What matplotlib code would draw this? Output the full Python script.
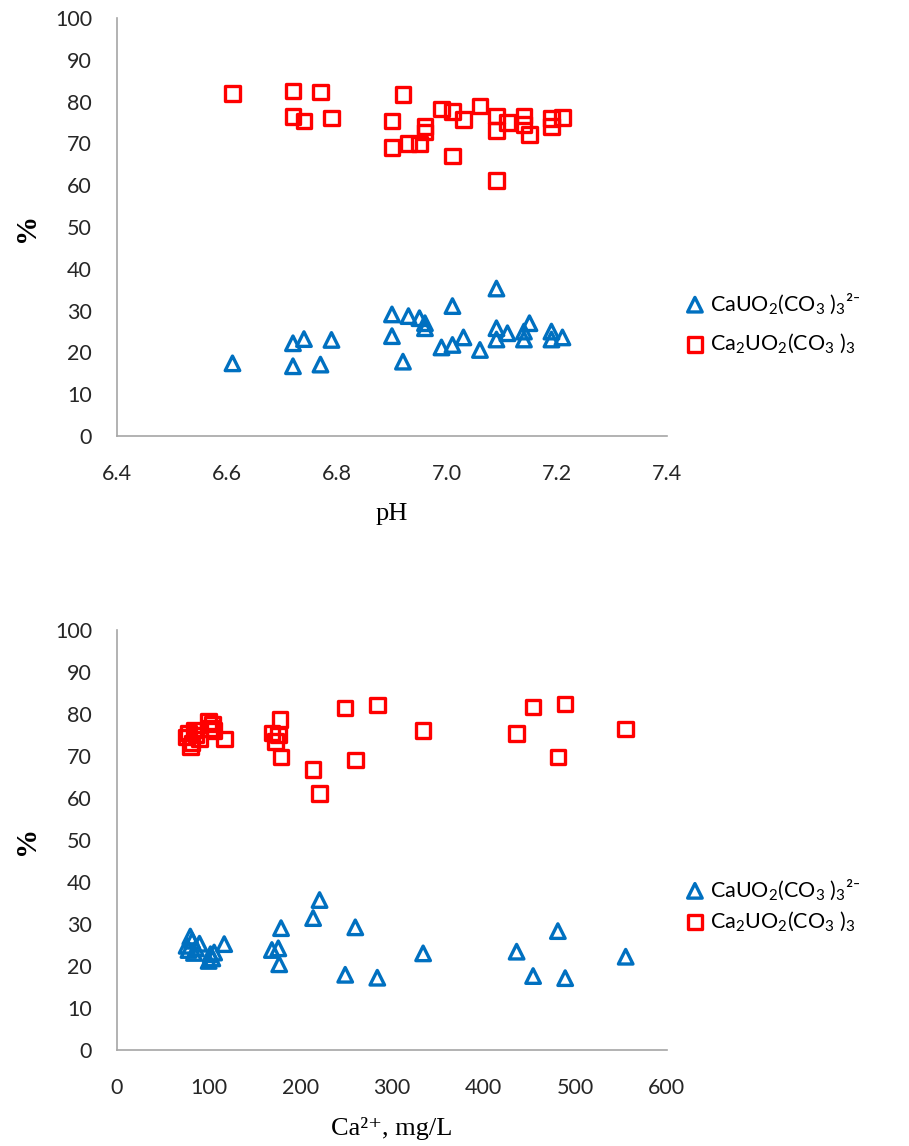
import matplotlib
matplotlib.use("Agg")
import matplotlib.pyplot as plt

# --- top panel: species share vs pH ---
ph_tri = [6.61, 6.72, 6.74, 6.79, 6.72, 6.77, 6.90, 6.90, 6.93, 6.95, 6.96, 6.96, 6.92, 7.01,
          6.99, 7.01, 7.03, 7.06, 7.09, 7.09, 7.09, 7.11, 7.15, 7.14, 7.14, 7.19, 7.19, 7.21]
pct_tri = [17.4, 22.2, 23.2, 23.0, 16.7, 17.1, 29.1, 23.9, 28.7, 28.2, 27.0, 25.8, 17.8, 31.1,
           21.2, 21.8, 23.6, 20.6, 35.3, 25.8, 23.1, 24.6, 27.0, 25.0, 23.1, 25.0, 23.1, 23.6]

ph_sq = [6.61, 6.72, 6.77, 6.72, 6.74, 6.79, 6.92, 6.90, 6.90, 6.93, 6.95, 6.96, 6.96, 6.99,
         7.01, 7.01, 7.03, 7.06, 7.09, 7.09, 7.09, 7.11, 7.14, 7.14, 7.15, 7.19, 7.19, 7.21]
pct_sq = [82.0, 82.6, 82.3, 76.4, 75.4, 76.1, 81.7, 75.4, 69.1, 70.0, 69.9, 74.0, 72.8, 78.3,
          77.6, 67.0, 75.8, 79.0, 76.6, 73.1, 61.1, 75.0, 76.6, 74.5, 72.2, 76.0, 74.0, 76.2]

# --- bottom panel: species share vs Ca2+ ---
ca_tri = [249, 284, 454, 489, 221, 214, 260, 179, 334, 436, 481, 555, 177, 169, 176,
          76, 78, 80, 82, 84, 86, 90, 100, 102, 104, 106, 117]
pct_ca_tri = [17.9, 17.2, 17.6, 17.1, 35.7, 31.4, 29.2, 29.0, 23.0, 23.4, 28.3, 22.2, 20.4, 23.8, 24.2,
              24.8, 23.8, 27.0, 26.0, 23.1, 24.2, 25.3, 21.2, 22.8, 21.8, 23.2, 25.2]

ca_sq = [249, 284, 454, 489, 221, 214, 260, 178, 334, 436, 481, 555, 179, 169, 176, 173,
         76, 78, 80, 82, 84, 86, 90, 100, 102, 104, 106, 117]
pct_ca_sq = [81.4, 82.1, 81.7, 82.4, 61.1, 66.8, 69.0, 78.7, 76.0, 75.4, 69.8, 76.4, 69.8, 75.5, 75.0, 73.4,
             74.5, 75.5, 72.2, 73.1, 76.2, 75.0, 74.0, 78.2, 76.6, 77.6, 76.0, 74.0]

LBL_TRI = "CaUO$_2$(CO$_3$ )$_3$²⁻"
LBL_SQ = "Ca$_2$UO$_2$(CO$_3$ )$_3$"

BLUE = "#0070c0"
RED = "#ff0000"
AXIS_GRAY = "#a6a6a6"
SERIF = ["Liberation Serif", "DejaVu Serif"]

plt.rcParams["font.family"] = ["Lato", "DejaVu Sans"]
plt.rcParams["mathtext.default"] = "regular"

fig = plt.figure(figsize=(9.09, 11.46), dpi=100)
ax1 = fig.add_axes([0.1287, 0.6195, 0.605, 0.3647])
ax2 = fig.add_axes([0.1287, 0.0838, 0.605, 0.3665])


def style(ax, xlabel, leg_y, leg_gap):
    for s in ("top", "right"):
        ax.spines[s].set_visible(False)
    for s in ("left", "bottom"):
        ax.spines[s].set_color(AXIS_GRAY)
        ax.spines[s].set_linewidth(1.2)
    ax.tick_params(length=0, labelsize=15.5, colors="#262626")
    ax.tick_params(axis="x", pad=20)
    ax.tick_params(axis="y", pad=18)
    ax.set_ylim(0, 100)
    ax.set_yticks(range(0, 101, 10))
    ax.set_xlabel(xlabel, family=SERIF, fontsize=19, labelpad=14)
    ax.set_ylabel("%", family=SERIF, fontsize=21, fontweight="bold", labelpad=11)
    ax.legend(loc="center left", bbox_to_anchor=(1.0, leg_y), frameon=False, fontsize=15.5,
              handletextpad=0.1, labelspacing=leg_gap, borderaxespad=0.3, handlelength=1.2)


mk = dict(s=110, facecolors="none", linewidths=2.4)

ax1.scatter(ph_tri, pct_tri, marker="^", edgecolors=BLUE, label=LBL_TRI, **mk)
ax1.scatter(ph_sq, pct_sq, marker="s", edgecolors=RED, label=LBL_SQ, **mk)
ax1.set_xlim(6.4, 7.4)
ax1.set_xticks([6.4, 6.6, 6.8, 7.0, 7.2, 7.4])
ax1.set_xticklabels(["6.4", "6.6", "6.8", "7.0", "7.2", "7.4"])
style(ax1, "pH", 0.27, 0.75)

ax2.scatter(ca_tri, pct_ca_tri, marker="^", edgecolors=BLUE, label=LBL_TRI, **mk)
ax2.scatter(ca_sq, pct_ca_sq, marker="s", edgecolors=RED, label=LBL_SQ, **mk)
ax2.set_xlim(0, 600)
ax2.set_xticks(range(0, 601, 100))
style(ax2, "Ca²⁺, mg/L", 0.345, 0.35)

fig.savefig("out.png", dpi=100)
